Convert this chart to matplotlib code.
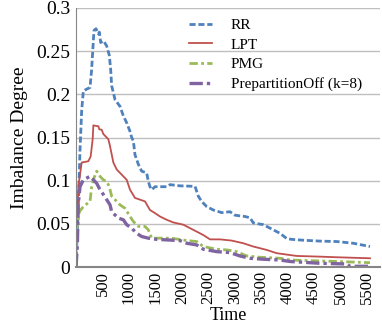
import matplotlib

matplotlib.use("Agg")
import matplotlib.pyplot as plt

# Excel 2007 palette
BLUE = "#4F81BD"
RED = "#C0504D"
GREEN = "#9BBB59"
PURPLE = "#8064A2"
GRID = "#BFBFBF"
AXIS = "#868686"

plt.rcParams.update({
    "font.family": "Liberation Serif",
})

# data (time, imbalance degree)
rr_t = [0, 44, 76, 107, 139, 265, 296, 315, 340, 378, 422, 441, 466, 520, 580, 630, 655, 674,
        737, 832, 895, 958, 1021, 1052, 1084, 1115, 1178, 1241, 1336, 1367, 1399, 1430, 1493,
        1714, 1777, 1966, 2250, 2312, 2375, 2470, 2596, 2753, 2911, 3005, 3194, 3289, 3352,
        3541, 3667, 3856, 3982, 4076, 4297, 4612, 4927, 5242, 5557]
rr_v = [0, 0.07, 0.136, 0.181, 0.204, 0.208, 0.229, 0.249, 0.274, 0.276, 0.270, 0.272, 0.260,
        0.262, 0.256, 0.245, 0.229, 0.210, 0.194, 0.186, 0.175, 0.167, 0.157, 0.150, 0.146,
        0.130, 0.119, 0.111, 0.109, 0.099, 0.093, 0.0895, 0.093, 0.093, 0.0954, 0.094, 0.0934,
        0.082, 0.076, 0.070, 0.066, 0.063, 0.064, 0.060, 0.0585, 0.057, 0.051, 0.049, 0.045,
        0.039, 0.033, 0.032, 0.031, 0.030, 0.0295, 0.0275, 0.0237]

lpt_t = [0, 44, 107, 233, 277, 315, 328, 422, 441, 485, 517, 611, 643, 706, 769, 863, 958,
         1021, 1115, 1210, 1304, 1399, 1493, 1588, 1714, 1840, 2029, 2218, 2407, 2533, 2722,
         2942, 3163, 3352, 3604, 3793, 4171, 4612, 4927, 5557]
lpt_v = [0, 0.093, 0.121, 0.1225, 0.128, 0.148, 0.164, 0.163, 0.1595, 0.159, 0.154, 0.148,
         0.140, 0.121, 0.113, 0.107, 0.101, 0.0895, 0.080, 0.078, 0.076, 0.066, 0.0624, 0.0585,
         0.0547, 0.0516, 0.049, 0.043, 0.037, 0.032, 0.032, 0.0306, 0.0275, 0.0237, 0.0198,
         0.016, 0.0128, 0.012, 0.0113, 0.0101]

pmg_t = [0, 13, 63, 139, 265, 296, 328, 391, 454, 517, 580, 630, 674, 832, 926, 1021, 1084,
         1178, 1304, 1367, 1430, 1714, 1840, 2092, 2281, 2407, 2659, 2848, 3037, 3226, 3478,
         3856, 4045, 4612, 4927, 5557]
pmg_v = [0, 0.043, 0.064, 0.070, 0.076, 0.093, 0.101, 0.111, 0.105, 0.101, 0.099, 0.093,
         0.082, 0.072, 0.068, 0.0585, 0.0527, 0.047, 0.047, 0.043, 0.0334, 0.0334, 0.033,
         0.0306, 0.0295, 0.0237, 0.0206, 0.0198, 0.0178, 0.0128, 0.0113, 0.0101, 0.0081,
         0.007, 0.0064, 0.005]

pre_t = [0, 25, 44, 76, 139, 265, 328, 391, 454, 517, 580, 643, 674, 800, 895, 958, 1052,
         1147, 1241, 1367, 1525, 1966, 2092, 2281, 2407, 2659, 2911, 3100, 3289, 3541, 3856,
         4045, 4612, 5116, 5179, 5557]
pre_v = [0, 0.024, 0.074, 0.093, 0.101, 0.105, 0.101, 0.097, 0.0895, 0.084, 0.078, 0.072,
         0.064, 0.0566, 0.0547, 0.049, 0.045, 0.039, 0.0353, 0.0334, 0.032, 0.0306, 0.0275,
         0.0256, 0.0206, 0.0178, 0.0167, 0.0128, 0.0101, 0.009, 0.0081, 0.0064, 0.0043,
         0.0035, 0.0008, 0.0008]

x_ticks = [500, 1000, 1500, 2000, 2500, 3000, 3500, 4000, 4500, 5000, 5500]
y_ticks = [0, 0.05, 0.1, 0.15, 0.2, 0.25, 0.3]
y_labels = ["0", "0.05", "0.1", "0.15", "0.2", "0.25", "0.3"]

fig = plt.figure(figsize=(3.82, 3.27), dpi=100)
ax = fig.add_axes([76 / 382, 60 / 327, 304 / 382, 259 / 327])

ax.plot(rr_t, rr_v, color=BLUE, lw=2.0, linestyle=(0, (2.2, 1.0)), label="RR")
ax.plot(lpt_t, lpt_v, color=RED, lw=1.3, label="LPT")
ax.plot(pmg_t, pmg_v, color=GREEN, lw=2.0, linestyle=(0, (3, 1.2, 1, 1.2)), label="PMG")
ax.plot(pre_t, pre_v, color=PURPLE, lw=2.4, linestyle=(0, (4, 1.2, 1, 1.2)),
        label="PrepartitionOff (k=8)")

ax.set_xlim(0, 5746)
ax.set_ylim(0, 0.3)
ax.set_yticks(y_ticks)
ax.set_yticklabels(y_labels, fontsize=14)
ax.set_xticks(x_ticks)
ax.set_xticklabels([str(t) for t in x_ticks], rotation=90, fontsize=12)
ax.tick_params(axis="y", length=0, pad=4)
ax.tick_params(axis="x", length=0, pad=3)
ax.yaxis.grid(True, color=GRID, lw=1.0)
ax.set_axisbelow(True)

for s in ("top", "right"):
    ax.spines[s].set_visible(False)
ax.spines["left"].set_color(AXIS)
ax.spines["bottom"].set_color(AXIS)
ax.spines["bottom"].set_linewidth(1.5)

ax.set_xlabel("Time", fontsize=13, labelpad=2)
ax.set_ylabel("Imbalance Degree", fontsize=14, labelpad=6)

leg = ax.legend(loc="upper left", bbox_to_anchor=(181 / 382, 1 - 11 / 327),
                bbox_transform=fig.transFigure, frameon=False, fontsize=11,
                handlelength=1.5, handletextpad=1.25, labelspacing=0.38, borderpad=0)

fig.savefig("out.png", dpi=100, facecolor="white")
